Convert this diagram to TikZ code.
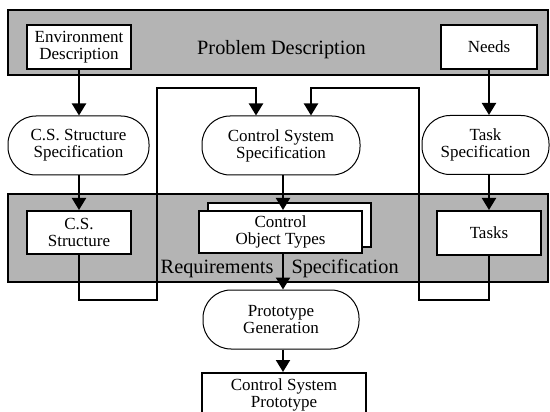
\documentclass[tikz,border=0pt]{standalone}
\usepackage{fontspec}
\setmainfont{Liberation Serif}
\usetikzlibrary{arrows.meta,calc}

\definecolor{bandgray}{RGB}{180,180,180}

\tikzset{
  boxfont/.style={font=\fontsize{17}{17}\selectfont},
  bandfont/.style={font=\fontsize{20.3}{24}\selectfont},
  band/.style={draw, line width=2pt, fill=bandgray, inner sep=0pt},
  docbox/.style={draw, line width=2pt, fill=white, align=center, boxfont, inner sep=2pt},
  activity/.style={draw, line width=1pt, fill=white, rounded corners=28pt, align=center, boxfont, inner sep=2pt, minimum height=59pt},
  flow/.style={line width=2pt, -{Triangle[width=14pt,length=12pt]}},
  loopline/.style={line width=2pt, -{Triangle[width=14pt,length=12pt]}},
}

\begin{document}
\begin{tikzpicture}[x=1pt,y=-1pt]
\useasboundingbox (0,0) rectangle (550,412);
\clip (0,0) rectangle (550,412);

% problem description band
\node[band, minimum width=540pt, minimum height=65pt] (pdband) at (278,42.5) {};
\node[bandfont, anchor=base] (pdlabel) at (281.5,55) {Problem Description};
\node[docbox, minimum width=104pt, minimum height=44pt] (env) at (79,47) {Environment\\Description};
\node[docbox, minimum width=96pt, minimum height=44pt] (needs) at (489,47) {Needs};

% specification activities
\node[activity, minimum width=141pt] (csspec) at (78.5,145.5) {C.S. Structure\\Specification};
\node[activity, minimum width=158pt] (ctlspec) at (281,145.5) {Control System\\Specification};
\node[activity, minimum width=127pt] (taskspec) at (485.5,145) {Task\\Specification};

% requirements specification band
\node[band, minimum width=540pt, minimum height=88pt] (rsband) at (278,238) {};
\node[bandfont, anchor=base east] (rslabelA) at (277,273) {Requirements};
\node[bandfont, anchor=base west] (rslabelB) at (288,273) {Specification};
\node[docbox, minimum width=104pt, minimum height=43pt] (csstruct) at (79,232.5) {C.S.\\Structure};
\node[docbox, minimum width=163pt, minimum height=44pt] (cotback) at (289.5,225) {};
\node[docbox, minimum width=163pt, minimum height=42pt] (cot) at (280.5,232) {Control\\Object Types};
\node[docbox, minimum width=104pt, minimum height=44pt] (tasks) at (489,233) {Tasks};

% prototype generation
\node[activity, minimum width=156pt] (protogen) at (281,319.5) {Prototype\\Generation};
\node[docbox, minimum width=164pt, minimum height=44pt] (proto) at (284,395) {Control System\\Prototype};

% helper points
\coordinate (spine) at (283,0);
\coordinate (lbot) at (157,300);
\coordinate (ltop) at (157,88);
\coordinate (rbot) at (419,300);
\coordinate (rtop) at (419,88);

% straight flows
\draw[flow] (env.south) -- (env.south |- csspec.north);
\draw[flow] (needs.south) -- (needs.south |- taskspec.north);
\draw[flow] (csspec.south -| csstruct.north) -- (csstruct.north);
\draw[flow] (tasks.north |- taskspec.south) -- (tasks.north);
\draw[flow] (spine |- ctlspec.south) -- (spine |- cot.north);
\draw[flow] (spine |- cot.south) -- (spine |- protogen.north);
\draw[flow] (spine |- protogen.south) -- (spine |- proto.north);

% feedback loops into the control system specification
\draw[loopline] (csstruct.south) |- (lbot) -- (ltop) -| ($(ctlspec.north)+(-25,0)$);
\draw[loopline] (tasks.south) |- (rbot) -- (rtop) -| ($(ctlspec.north)+(30,0)$);
\end{tikzpicture}
\end{document}
